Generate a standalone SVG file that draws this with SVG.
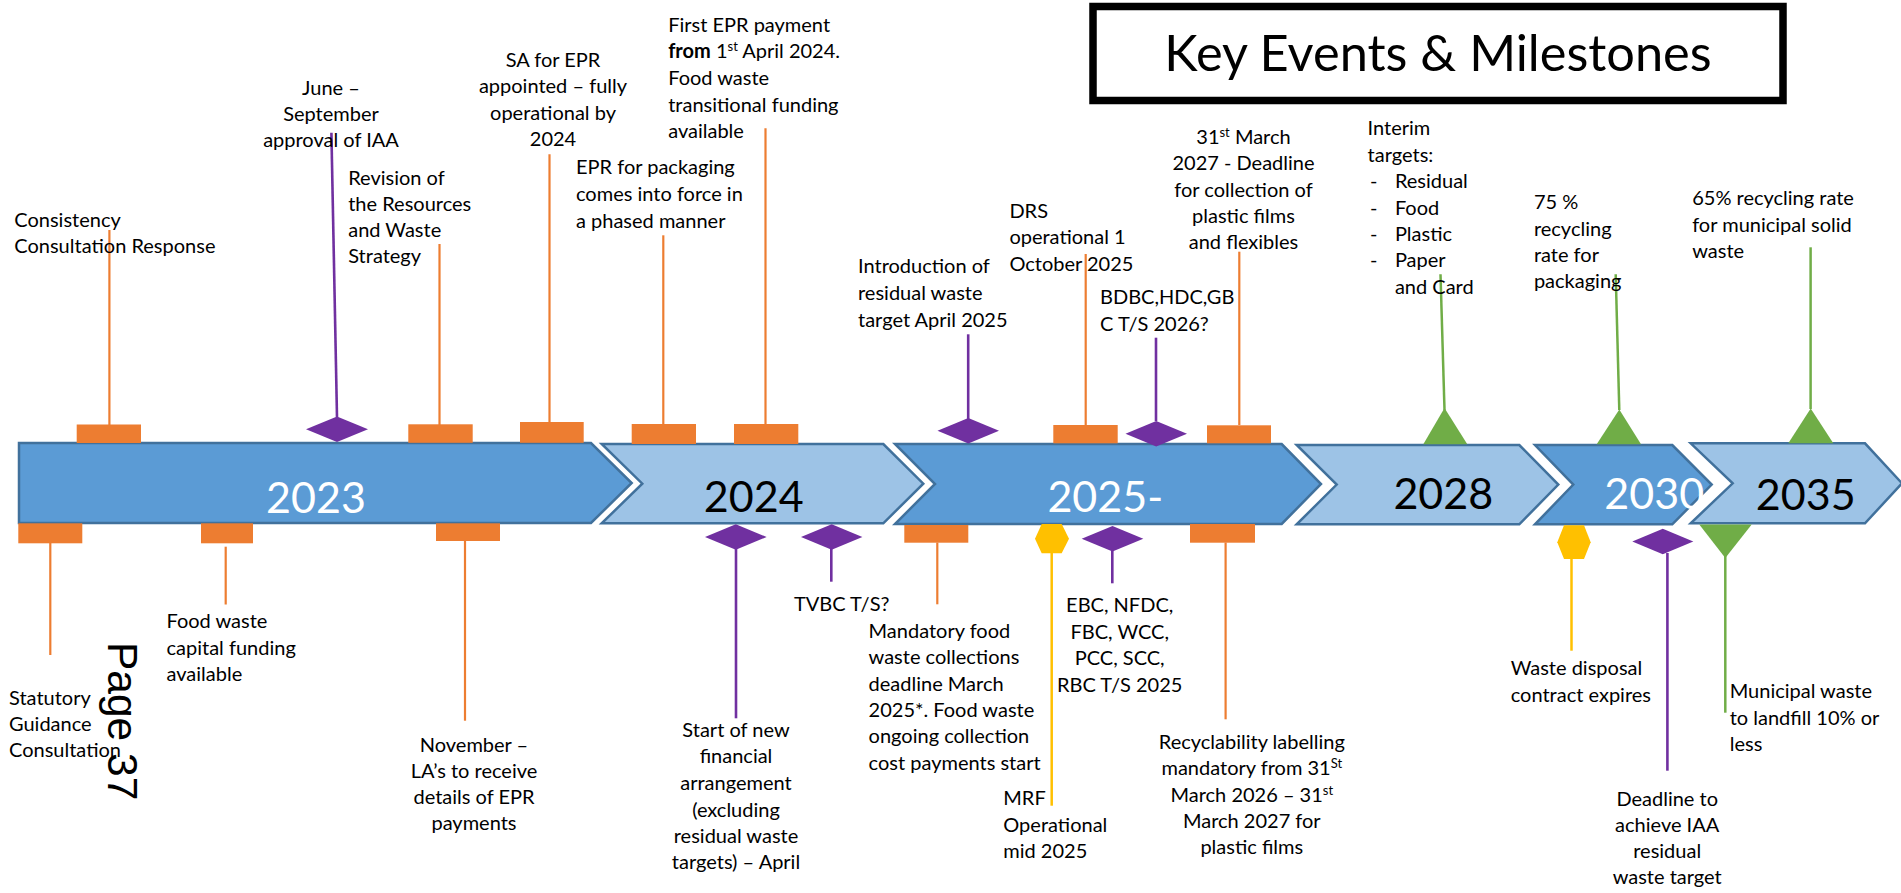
<svg xmlns="http://www.w3.org/2000/svg" width="1901" height="893" viewBox="0 0 1901 893">
<style>
.t{font-family:Lato,"Open Sans",sans-serif;font-size:20px;fill:#000}
.m{text-anchor:middle}
.yr{font-family:Lato,"Open Sans",sans-serif;font-size:43px;text-anchor:middle}
.dk{fill:#5B9BD5;stroke:#41719C;stroke-width:2.5}
.lt{fill:#9DC3E6;stroke:#41719C;stroke-width:2.5}
.ol{stroke:#ED7D31;stroke-width:2.2;fill:none}
.of{fill:#ED7D31}
.pl{stroke:#7030A0;stroke-width:2.6;fill:none}
.pf{fill:#7030A0}
.gl{stroke:#70AD47;stroke-width:2.5;fill:none}
.gf{fill:#70AD47}
.yl{stroke:#FFC000;stroke-width:2.5;fill:none}
.yf{fill:#FFC000}
.sup{font-size:13px}
</style>

<g id="title">
<rect x="1093" y="6.5" width="690" height="94" fill="#fff" stroke="#000" stroke-width="7.5"/>
<text x="1438" y="71" text-anchor="middle" style="font-family:Lato,'Open Sans',sans-serif;font-size:50.5px">Key Events &amp; Milestones</text>
</g>

<g id="timeline">
<g id="y2023"><path class="dk" d="M19,443 L591,443 L631.7,483 L591,523 L19,523 Z"/><text class="yr" x="316" y="513" fill="#fff">2023</text></g>
<g id="y2024"><path class="lt" d="M601.7,444 L883.3,444 L923.3,483.7 L883.3,523.3 L601.7,523.3 L642.3,483.7 Z"/><text class="yr" x="753.7" y="512" fill="#000">2024</text></g>
<g id="y2025"><path class="dk" d="M895,444 L1281.7,444 L1321,484 L1281.7,524 L895,524 L935,484 Z"/><text class="yr" x="1105.3" y="512" fill="#fff">2025-</text></g>
<g id="y2028"><path class="lt" d="M1296.7,445 L1519.3,445 L1558.3,484.6 L1519.3,524.3 L1296.7,524.3 L1336.7,484.6 Z"/><text class="yr" x="1443.3" y="508.6" fill="#000">2028</text></g>
<g id="y2030"><path class="dk" d="M1535,445 L1672.3,445 L1711.7,484.6 L1672.3,524.3 L1535,524.3 L1573.3,484.6 Z"/><text class="yr" x="1654.2" y="508.6" fill="#fff">2030</text></g>
<g id="y2035"><path class="lt" d="M1690.7,443.3 L1865,443.3 L1902,483.3 L1865,523.3 L1690.7,523.3 L1732.7,483.3 Z"/><text class="yr" x="1805.7" y="510.3" fill="#000">2035</text></g>
</g>

<g id="connectors">
<line class="ol" x1="109.4" y1="230" x2="109.4" y2="425"/>
<line class="pl" x1="331.4" y1="132.7" x2="337" y2="417"/>
<line class="ol" x1="439.5" y1="244" x2="439.5" y2="425"/>
<line class="ol" x1="549.5" y1="154.3" x2="549.5" y2="422"/>
<line class="ol" x1="663.3" y1="235.3" x2="663.3" y2="424"/>
<line class="ol" x1="765.5" y1="128.3" x2="765.5" y2="424"/>
<line class="pl" x1="968.2" y1="334.3" x2="968.2" y2="419"/>
<line class="ol" x1="1085.7" y1="254" x2="1085.7" y2="425"/>
<line class="pl" x1="1156" y1="337.7" x2="1156" y2="421"/>
<line class="ol" x1="1239.3" y1="251.7" x2="1239.3" y2="425"/>
<line class="gl" x1="1440.5" y1="274.3" x2="1444.5" y2="410"/>
<line class="gl" x1="1615.7" y1="274.3" x2="1619.3" y2="410"/>
<line class="gl" x1="1810.6" y1="247.3" x2="1810.6" y2="409"/>
<line class="ol" x1="50.3" y1="543" x2="50.3" y2="655"/>
<line class="ol" x1="225.7" y1="546.7" x2="225.7" y2="604.5"/>
<line class="ol" x1="465" y1="541" x2="465" y2="720.7"/>
<line class="pl" x1="736" y1="549" x2="736" y2="718.3"/>
<line class="pl" x1="831.3" y1="549" x2="831.3" y2="581.7"/>
<line class="ol" x1="937.3" y1="542.5" x2="937.3" y2="604.3"/>
<line class="yl" x1="1051.7" y1="553" x2="1051.7" y2="805.7"/>
<line class="pl" x1="1112.3" y1="551" x2="1112.3" y2="583.3"/>
<line class="ol" x1="1225.6" y1="542.5" x2="1225.6" y2="719.3"/>
<line class="yl" x1="1571.5" y1="558" x2="1571.5" y2="650.7"/>
<line class="pl" x1="1667.4" y1="553" x2="1667.4" y2="770.7"/>
<line class="gl" x1="1725.3" y1="556" x2="1725.3" y2="712.7"/>
</g>

<g id="consistency">
<rect class="of" x="76.7" y="424.5" width="64.3" height="18.5"/>
<text class="t"><tspan x="14.3" y="226.5">Consistency</tspan><tspan x="14.3" y="252.5">Consultation Response</tspan></text>
</g>

<g id="june">
<polygon class="pf" points="306,429.3 337,416.5 368,429.3 337,442"/>
<text class="t m"><tspan x="331" y="95">June –</tspan><tspan x="331" y="121">September</tspan><tspan x="331" y="147">approval of IAA</tspan></text>
</g>

<g id="revision">
<rect class="of" x="408.3" y="424.3" width="64.4" height="18.5"/>
<text class="t"><tspan x="348.2" y="185">Revision of</tspan><tspan x="348.2" y="211">the Resources</tspan><tspan x="348.2" y="237">and Waste</tspan><tspan x="348.2" y="263">Strategy</tspan></text>
</g>

<g id="sa">
<rect class="of" x="520" y="422" width="63.7" height="20.8"/>
<text class="t m"><tspan x="553" y="67">SA for EPR</tspan><tspan x="553" y="93.3">appointed – fully</tspan><tspan x="553" y="119.5">operational by</tspan><tspan x="553" y="145.8">2024</tspan></text>
</g>

<g id="eprpack">
<rect class="of" x="631.7" y="424" width="64.3" height="20"/>
<text class="t"><tspan x="576" y="174.3">EPR for packaging</tspan><tspan x="576" y="201">comes into force in</tspan><tspan x="576" y="227.7">a phased manner</tspan></text>
</g>

<g id="firstepr">
<rect class="of" x="734" y="424" width="64.3" height="20"/>
<text class="t"><tspan x="668.2" y="31.7">First EPR payment</tspan><tspan x="668.2" y="58.3"><tspan font-weight="bold">from</tspan> 1<tspan class="sup" dy="-7">st</tspan><tspan dy="7"> April 2024.</tspan></tspan><tspan x="668.2" y="85">Food waste</tspan><tspan x="668.2" y="111.7">transitional funding</tspan><tspan x="668.2" y="137.5">available</tspan></text>
</g>

<g id="intro">
<polygon class="pf" points="937.5,430.7 968.3,418 999,430.7 968.3,443.4"/>
<text class="t"><tspan x="858" y="273.3">Introduction of</tspan><tspan x="858" y="300">residual waste</tspan><tspan x="858" y="326.7">target April 2025</tspan></text>
</g>

<g id="drs">
<rect class="of" x="1053.3" y="425" width="64.4" height="18.3"/>
<text class="t"><tspan x="1009.4" y="217.5">DRS</tspan><tspan x="1009.4" y="244.2">operational 1</tspan><tspan x="1009.4" y="270.8">October 2025</tspan></text>
</g>

<g id="bdbc">
<polygon class="pf" points="1125.5,433.8 1156.2,421 1187,433.8 1156.2,446.6"/>
<text class="t"><tspan x="1100" y="304">BDBC,HDC,GB</tspan><tspan x="1100" y="330.7">C T/S 2026?</tspan></text>
</g>

<g id="march2027">
<rect class="of" x="1207" y="425.3" width="64" height="18"/>
<text class="t m"><tspan x="1243.5" y="143.5">31<tspan class="sup" dy="-7">st</tspan><tspan dy="7"> March</tspan></tspan><tspan x="1243.5" y="170.3">2027 - Deadline</tspan><tspan x="1243.5" y="196.8">for collection of</tspan><tspan x="1243.5" y="222.8">plastic films</tspan><tspan x="1243.5" y="249.3">and flexibles</tspan></text>
</g>

<g id="interim">
<polygon class="gf" points="1423.3,444.3 1444.5,408 1467.3,444.3"/>
<text class="t"><tspan x="1367.6" y="135">Interim</tspan><tspan x="1367.6" y="161.7">targets:</tspan><tspan x="1369.9" y="188.3">-</tspan><tspan x="1394.9" y="188.3">Residual</tspan><tspan x="1369.9" y="215">-</tspan><tspan x="1394.9" y="215">Food</tspan><tspan x="1369.9" y="240.7">-</tspan><tspan x="1394.9" y="240.7">Plastic</tspan><tspan x="1369.9" y="267.3">-</tspan><tspan x="1394.9" y="267.3">Paper</tspan><tspan x="1394.9" y="293.5">and Card</tspan></text>
</g>

<g id="r75">
<polygon class="gf" points="1596.7,444.3 1619.3,409.5 1641,444.3"/>
<text class="t"><tspan x="1533.9" y="208.5">75 %</tspan><tspan x="1533.9" y="235.5">recycling</tspan><tspan x="1533.9" y="261.7">rate for</tspan><tspan x="1533.9" y="287.5">packaging</tspan></text>
</g>

<g id="r65">
<polygon class="gf" points="1788.3,443.3 1810.7,408.5 1833.3,443.3"/>
<text class="t"><tspan x="1692.2" y="205">65% recycling rate</tspan><tspan x="1692.2" y="231.7">for municipal solid</tspan><tspan x="1692.2" y="258.3">waste</tspan></text>
</g>

<g id="statutory">
<rect class="of" x="18.3" y="523.3" width="64" height="20"/>
<text class="t"><tspan x="9" y="705">Statutory</tspan><tspan x="9" y="730.7">Guidance</tspan><tspan x="9" y="756.7">Consultation</tspan></text>
</g>

<g id="page">
<text transform="translate(107.5,642) rotate(90)" style="font-family:'Liberation Sans',Arial,sans-serif;font-size:42.5px">Page 37</text>
</g>

<g id="foodcap">
<rect class="of" x="201" y="523.3" width="52" height="20"/>
<text class="t"><tspan x="166.5" y="628">Food waste</tspan><tspan x="166.5" y="655">capital funding</tspan><tspan x="166.5" y="680.7">available</tspan></text>
</g>

<g id="november">
<rect class="of" x="436" y="523.3" width="64" height="17.7"/>
<text class="t m"><tspan x="474" y="751.7">November –</tspan><tspan x="474" y="778.3">LA’s to receive</tspan><tspan x="474" y="804.3">details of EPR</tspan><tspan x="474" y="830">payments</tspan></text>
</g>

<g id="startnew">
<polygon class="pf" points="705,537 735.8,524.3 766.6,537 735.8,549.7"/>
<text class="t m"><tspan x="736" y="736.7">Start of new</tspan><tspan x="736" y="763.3">financial</tspan><tspan x="736" y="790">arrangement</tspan><tspan x="736" y="816.7">(excluding</tspan><tspan x="736" y="842.8">residual waste</tspan><tspan x="736" y="869.3">targets) – April</tspan></text>
</g>

<g id="tvbc">
<polygon class="pf" points="801,537 831.7,524.3 862.4,537 831.7,549.7"/>
<text class="t"><tspan x="793.9" y="611">TVBC T/S?</tspan></text>
</g>

<g id="mandatory">
<rect class="of" x="904.3" y="525" width="64" height="17.7"/>
<text class="t"><tspan x="868.6" y="637.7">Mandatory food</tspan><tspan x="868.6" y="664.3">waste collections</tspan><tspan x="868.6" y="690.7">deadline March</tspan><tspan x="868.6" y="716.8">2025*. Food waste</tspan><tspan x="868.6" y="743.3">ongoing collection</tspan><tspan x="868.6" y="770">cost payments start</tspan></text>
</g>

<g id="mrf">
<polygon class="yf" points="1035,538.7 1041.7,524 1061.7,524 1069,538.7 1061.7,553.3 1041.7,553.3"/>
<text class="t"><tspan x="1003.3" y="805">MRF</tspan><tspan x="1003.3" y="831.7">Operational</tspan><tspan x="1003.3" y="857.7">mid 2025</tspan></text>
</g>

<g id="ebc">
<polygon class="pf" points="1081.7,538.8 1112.5,526 1143.3,538.8 1112.5,551.6"/>
<text class="t m"><tspan x="1119.7" y="611.7">EBC, NFDC,</tspan><tspan x="1119.7" y="638.8">FBC, WCC,</tspan><tspan x="1119.7" y="665">PCC, SCC,</tspan><tspan x="1119.7" y="691.7">RBC T/S 2025</tspan></text>
</g>

<g id="recyclability">
<rect class="of" x="1190" y="524" width="65" height="18.7"/>
<text class="t m"><tspan x="1251.8" y="748.5">Recyclability labelling</tspan><tspan x="1251.8" y="775">mandatory from 31<tspan class="sup" dy="-7">St</tspan></tspan><tspan x="1251.8" y="801.7">March 2026 – 31<tspan class="sup" dy="-7">st</tspan></tspan><tspan x="1251.8" y="827.8">March 2027 for</tspan><tspan x="1251.8" y="854.3">plastic films</tspan></text>
</g>

<g id="disposal">
<polygon class="yf" points="1557.3,542.2 1564,525.3 1584,525.3 1590.7,542.2 1584,559 1564,559"/>
<text class="t"><tspan x="1510.7" y="675">Waste disposal</tspan><tspan x="1510.7" y="701.7">contract expires</tspan></text>
</g>

<g id="deadline">
<polygon class="pf" points="1632.3,541.5 1662.8,528.7 1693.3,541.5 1662.8,554.3"/>
<text class="t m"><tspan x="1667.2" y="806">Deadline to</tspan><tspan x="1667.2" y="831.8">achieve IAA</tspan><tspan x="1667.2" y="858.3">residual</tspan><tspan x="1667.2" y="883.5">waste target</tspan></text>
</g>

<g id="municipal">
<polygon class="gf" points="1699.3,524.5 1751.7,524.5 1725.3,558"/>
<text class="t"><tspan x="1729.7" y="698.3">Municipal waste</tspan><tspan x="1729.7" y="725">to landfill 10% or</tspan><tspan x="1729.7" y="750.7">less</tspan></text>
</g>
</svg>
